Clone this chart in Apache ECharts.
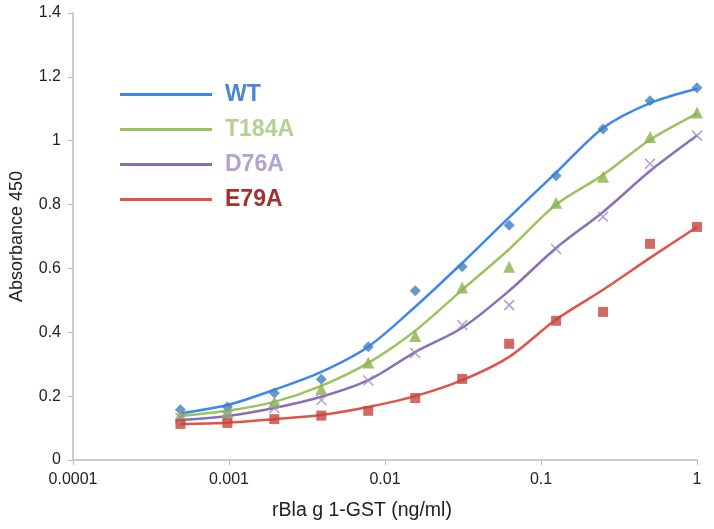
<!DOCTYPE html>
<html>
<head>
<meta charset="utf-8">
<script src="https://cdn.jsdelivr.net/npm/echarts@6/dist/echarts.min.js"></script>
<style>
  html, body { margin: 0; padding: 0; background: #fff; }
  #chart { width: 714px; height: 529px; }
</style>
</head>
<body>
<div id="chart"></div>
<script>
// dilution series, ng/ml
const doses = [1, 0.5, 0.25, 0.125, 0.0625, 0.03125, 0.015625, 0.0078125,
    0.00390625, 0.001953125, 0.0009765625, 0.00048828125];
const seriesNames = ['WT', 'T184A', 'D76A', 'E79A'];

// measured points
const wtPoints    = [1.166, 1.125, 1.037, 0.890, 0.735, 0.605, 0.530, 0.355, 0.253, 0.210, 0.166, 0.157];
const t184aPoints = [1.088, 1.012, 0.887, 0.806, 0.605, 0.540, 0.388, 0.305, 0.222, 0.182, 0.150, 0.141];
const d76aPoints  = [1.016, 0.928, 0.762, 0.661, 0.485, 0.423, 0.335, 0.249, 0.188, 0.163, 0.138, 0.132];
const e79aPoints  = [0.730, 0.677, 0.464, 0.436, 0.364, 0.254, 0.194, 0.154, 0.139, 0.128, 0.116, 0.113];

// fitted curves at the same doses
const wtFit    = [1.163, 1.118, 1.040, 0.900, 0.760, 0.617, 0.480, 0.355, 0.276, 0.220, 0.172, 0.146];
const t184aFit = [1.085, 1.003, 0.893, 0.800, 0.660, 0.533, 0.405, 0.304, 0.232, 0.182, 0.154, 0.138];
const d76aFit  = [1.016, 0.905, 0.777, 0.664, 0.530, 0.414, 0.338, 0.250, 0.198, 0.163, 0.138, 0.125];
const e79aFit  = [0.730, 0.633, 0.533, 0.440, 0.323, 0.250, 0.200, 0.166, 0.141, 0.128, 0.117, 0.113];

const xTicks = ['0.0001', '0.001', '0.01', '0.1', '1'];

const lineColors  = ['#3d87f0', '#9cc45c', '#8870b8', '#e0524a'];
const labelColors = ['#4a88d6', '#b6d092', '#b2a3cf', '#a3302e'];
const markColors  = ['#3f7fc2', '#8cb04f', '#9a88c6', '#c4453d'];
const crossPath = 'path://M0,0L10,10M10,0L0,10';
const marks = ['diamond', 'triangle', crossPath, 'rect'];
const markSizes = [11, 12, 10, 10];

const fits = [wtFit, t184aFit, d76aFit, e79aFit];
const points = [wtPoints, t184aPoints, d76aPoints, e79aPoints];

const chart = echarts.init(document.getElementById('chart'));

const seriesList = [];
seriesNames.forEach(function (name, i) {
    seriesList.push({
        name: name,
        type: 'line',
        smooth: 0.3,
        showSymbol: false,
        silent: true,
        data: doses.map(function (d, k) { return [d, fits[i][k]]; }),
        lineStyle: { color: lineColors[i], width: 2.5 },
        itemStyle: { color: lineColors[i] },
        z: 2
    });
});
seriesNames.forEach(function (name, i) {
    const isCross = i === 2;
    seriesList.push({
        name: name + ' data',
        type: 'scatter',
        symbol: marks[i],
        symbolSize: markSizes[i],
        data: doses.map(function (d, k) { return [d, points[i][k]]; }),
        itemStyle: isCross
            ? { color: 'none', borderColor: markColors[i], borderWidth: 1.5 }
            : { color: markColors[i] },
        z: 3
    });
});

const option = {
    animation: false,
    textStyle: { fontFamily: 'Liberation Sans, Arial, sans-serif' },
    grid: { left: 73, right: 17, top: 13, bottom: 69 },
    legend: {
        orient: 'vertical',
        left: 115,
        top: 78,
        itemWidth: 92,
        itemHeight: 3,
        itemGap: 12,
        icon: 'rect',
        data: seriesNames.map(function (name, i) {
            return { name: name, textStyle: { color: labelColors[i] } };
        }),
        textStyle: { fontSize: 23, fontWeight: 'bold', padding: [0, 0, 0, 8] }
    },
    xAxis: {
        type: 'log',
        logBase: 10,
        min: 0.0001,
        max: 1,
        name: 'rBla g 1-GST (ng/ml)',
        nameLocation: 'middle',
        nameGap: 41,
        nameTextStyle: { fontSize: 19.5, color: '#222', padding: [0, 46, 0, 0] },
        axisLine: { lineStyle: { color: '#bdbdbd', width: 1.5 } },
        axisTick: { show: true, length: 5, lineStyle: { color: '#bdbdbd' } },
        splitLine: { show: false },
        axisLabel: {
            fontSize: 16,
            color: '#222',
            margin: 12,
            formatter: function (v) {
                const idx = Math.round(Math.log10(v)) + 4;
                return xTicks[idx] !== undefined ? xTicks[idx] : '';
            }
        }
    },
    yAxis: {
        type: 'value',
        min: 0,
        max: 1.4,
        interval: 0.2,
        name: 'Absorbance 450',
        nameLocation: 'middle',
        nameGap: 47,
        nameTextStyle: { fontSize: 18, color: '#222' },
        axisLine: { show: true, lineStyle: { color: '#bdbdbd', width: 1.5 } },
        axisTick: { show: true, length: 5, lineStyle: { color: '#bdbdbd' } },
        splitLine: { show: false },
        axisLabel: { fontSize: 16, color: '#222', margin: 12 }
    },
    series: seriesList
};
chart.setOption(option);
</script>
</body>
</html>
